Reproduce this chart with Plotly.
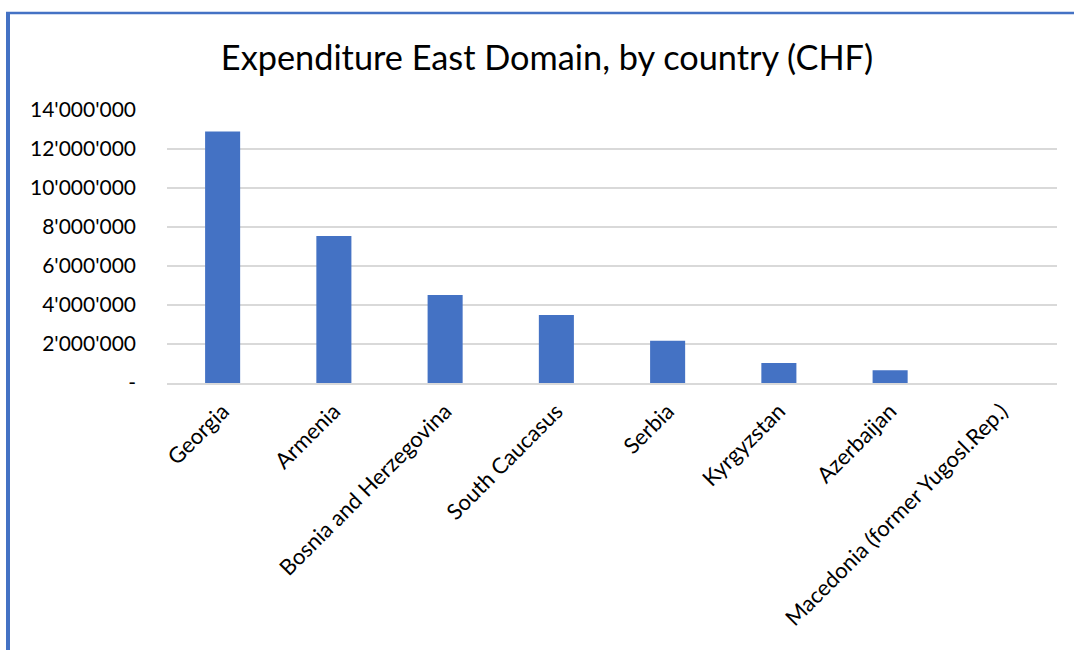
import plotly.graph_objects as go

# Expenditure by country, East Domain (CHF)
countries = [
    "Georgia",
    "Armenia",
    "Bosnia and Herzegovina",
    "South Caucasus",
    "Serbia",
    "Kyrgyzstan",
    "Azerbaijan",
    "Macedonia (former Yugosl.Rep.)",
]
expenditure = [12_900_000, 7_540_000, 4_510_000, 3_490_000, 2_170_000, 1_030_000, 650_000, 0]

tick_values = [0, 2_000_000, 4_000_000, 6_000_000, 8_000_000, 10_000_000, 12_000_000, 14_000_000]
tick_labels = ["-", "2'000'000", "4'000'000", "6'000'000", "8'000'000",
               "10'000'000", "12'000'000", "14'000'000"]

BLUE = "#4472C4"
FONT = "Lato"

fig = go.Figure(
    go.Bar(
        x=countries,
        y=expenditure,
        marker=dict(color=BLUE, line=dict(width=0)),
        width=0.315,
    )
)

# plot area in pixels: x 167..1057, y 110..383
L, R, T, B = 167, 1074 - 1057, 110, 650 - 383
pw, ph = 1074 - L - R, 650 - T - B

def px_x(x):
    return (x - L) / pw

def px_y(y):
    return (650 - B - y) / ph

fig.update_layout(
    width=1074,
    height=650,
    margin=dict(l=L, r=R, t=T, b=B, autoexpand=False),
    paper_bgcolor="white",
    plot_bgcolor="white",
    showlegend=False,
    font=dict(family=FONT, color="#000000"),
    title=dict(
        text="Expenditure East Domain, by country (CHF)",
        x=547 / 1074,
        xref="container",
        xanchor="center",
        y=1 - 58 / 650,
        yref="container",
        yanchor="middle",
        font=dict(family=FONT, size=34.3, color="#000000"),
    ),
    xaxis=dict(
        tickangle=-45,
        tickfont=dict(family=FONT, size=22, color="#000000"),
        showgrid=False,
        showline=True,
        linecolor="#D9D9D9",
        linewidth=1.5,
        ticks="",
        ticklabelstandoff=5,
    ),
    yaxis=dict(
        range=[0, 14_000_000],
        tickvals=tick_values,
        ticktext=tick_labels,
        tickfont=dict(family=FONT, size=21, color="#000000"),
        showgrid=True,
        gridcolor="#D9D9D9",
        gridwidth=1.5,
        zeroline=False,
        showline=False,
        ticks="",
        ticklabelstandoff=30,
    ),
    shapes=[
        # chart frame: top and left edges
        dict(type="line", xref="paper", yref="paper",
             x0=px_x(6), x1=px_x(1074), y0=px_y(13), y1=px_y(13),
             line=dict(color=BLUE, width=2.5)),
        dict(type="line", xref="paper", yref="paper",
             x0=px_x(8), x1=px_x(8), y0=px_y(12), y1=px_y(650),
             line=dict(color=BLUE, width=4)),
    ],
)

fig.write_html("out.html")
